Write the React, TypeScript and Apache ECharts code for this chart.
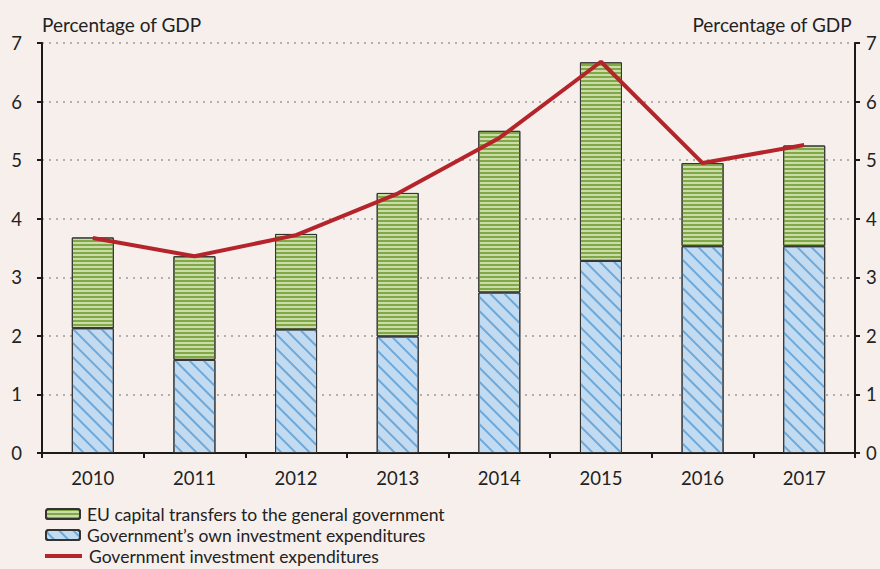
import React, { useEffect, useRef } from "react";
import * as echarts from "echarts";

const years = ["2010", "2011", "2012", "2013", "2014", "2015", "2016", "2017"];
const ownInvestment = [2.13, 1.59, 2.11, 1.99, 2.74, 3.28, 3.53, 3.53];
const euTransfers = [1.55, 1.77, 1.63, 2.45, 2.76, 3.39, 1.42, 1.72];
const totalInvestment = [3.67, 3.36, 3.72, 4.43, 5.38, 6.68, 4.95, 5.26];
const yTicks = [0, 1, 2, 3, 4, 5, 6, 7];

const nameEU = "EU capital transfers to the general government";
const nameOwn = "Government\u2019s own investment expenditures";
const nameTotal = "Government investment expenditures";
const axisTitle = "Percentage of GDP";

const FONT = "Lato";
const BG = "#f6efec";
const LEG_FONT = 17.5;

export default function App() {
  const ref = useRef<HTMLDivElement>(null);
  useEffect(() => {
    if (!ref.current) return;
    const chart = echarts.init(ref.current, undefined, { renderer: "svg" });
    const yAxisBase = {
      type: "value",
      min: yTicks[0],
      max: yTicks[yTicks.length - 1],
      interval: 1,
      axisLine: { show: true, lineStyle: { color: "#1a1a1a", width: 2 } },
      axisTick: { show: true, inside: false, length: 5, lineStyle: { color: "#1a1a1a", width: 2 } },
      axisLabel: { fontFamily: FONT, fontSize: 18.5, color: "#222" },
    };
    const legendText = { fontFamily: FONT, fontSize: LEG_FONT, color: "#222", padding: [0, 0, 0, 2] };
    chart.setOption({
      animation: false,
      backgroundColor: BG,
      textStyle: { fontFamily: FONT },
      grid: { left: 42, right: 25, top: 43, bottom: 116 },
      xAxis: {
        type: "category",
        data: years,
        boundaryGap: true,
        axisLine: { lineStyle: { color: "#1a1a1a", width: 2 } },
        axisTick: { show: true, alignWithLabel: false, length: 5, lineStyle: { color: "#1a1a1a", width: 2 } },
        axisLabel: { fontFamily: FONT, fontSize: 18.5, color: "#222", margin: 15 },
      },
      yAxis: [
        {
          ...yAxisBase,
          position: "left",
          axisLabel: { ...yAxisBase.axisLabel, margin: 20 },
          splitLine: { show: true, lineStyle: { color: "#9a9a9a", width: 1.5, type: [2, 5] } },
        },
        {
          ...yAxisBase,
          position: "right",
          axisLabel: { ...yAxisBase.axisLabel, margin: 11 },
          splitLine: { show: false },
        },
      ],
      legend: [
        {
          left: 40,
          top: 500,
          itemWidth: 34,
          itemHeight: 10,
          data: [nameEU],
          textStyle: legendText,
        },
        {
          left: 40,
          top: 521,
          itemWidth: 34,
          itemHeight: 10,
          data: [nameOwn],
          textStyle: legendText,
        },
        {
          left: 40,
          top: 542,
          itemWidth: 37,
          itemHeight: 4,
          icon: "rect",
          data: [nameTotal],
          textStyle: legendText,
        },
      ],
      series: [
        {
          name: nameOwn,
          type: "bar",
          stack: "inv",
          barWidth: 42,
          data: ownInvestment,
          itemStyle: {
            color: "#c3dbf0",
            borderColor: "#333",
            borderWidth: 1,
            decal: {
              symbol: "rect",
              symbolSize: 1,
              color: "#6ca8d9",
              dashArrayX: [1, 0],
              dashArrayY: [1.6, 7.5],
              rotation: Math.PI / 4,
            },
          },
        },
        {
          name: nameEU,
          type: "bar",
          stack: "inv",
          barWidth: 42,
          data: euTransfers,
          itemStyle: {
            color: "#cadca8",
            borderColor: "#333",
            borderWidth: 1,
            decal: {
              symbol: "rect",
              symbolSize: 1,
              color: "#80a846",
              dashArrayX: [1, 0],
              dashArrayY: [2, 1.4],
              rotation: 0,
            },
          },
        },
        {
          name: nameTotal,
          type: "line",
          data: totalInvestment,
          symbol: "none",
          showSymbol: false,
          lineStyle: { color: "#b5242a", width: 4 },
          itemStyle: { color: "#b5242a" },
          z: 5,
        },
      ],
      graphic: [
        {
          type: "text",
          left: 42,
          top: 15,
          style: { text: axisTitle, fontFamily: FONT, fontSize: 19, fill: "#222" },
        },
        {
          type: "text",
          right: 28,
          top: 15,
          style: { text: axisTitle, fontFamily: FONT, fontSize: 19, fill: "#222" },
        },
      ],
    });
    return () => chart.dispose();
  }, []);
  return (
    <div
      ref={ref}
      style={{ position: "fixed", left: 0, top: 0, width: 880, height: 569, background: BG }}
    />
  );
}
